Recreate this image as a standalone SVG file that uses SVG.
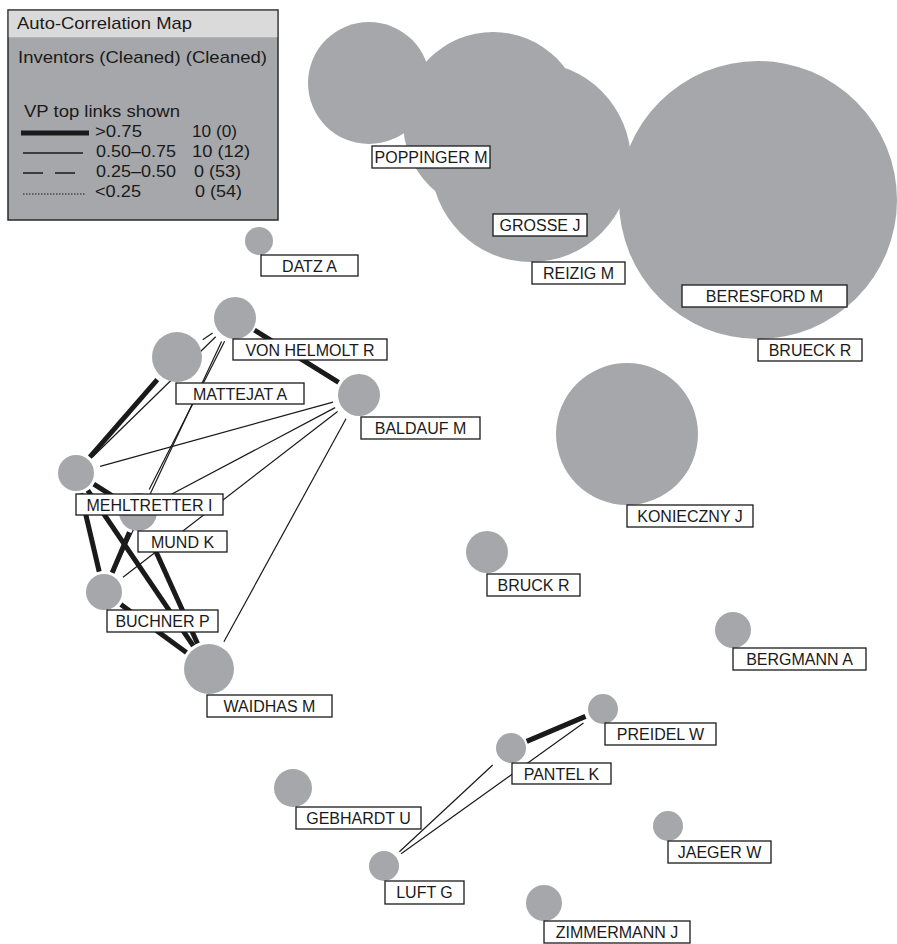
<svg xmlns="http://www.w3.org/2000/svg" width="897" height="944" viewBox="0 0 897 944">
  <style>
    .bg { fill: #ffffff; }
    .node circle { fill: #a6a7aa; }
    .node rect { fill: #ffffff; stroke: #1a1a1a; stroke-width: 1.3; }
    .node text { font-family: "Liberation Sans", Arial, sans-serif; font-size: 16px; fill: #1a1a1a; text-anchor: middle; }
    .edges line { stroke: #1a1a1a; stroke-linecap: butt; fill: none; }
    .edges .strong { stroke-width: 5; }
    .edges .medium { stroke-width: 1.2; }
    .legend text { font-family: "Liberation Sans", Arial, sans-serif; font-size: 17px; fill: #1a1a1a; }
    .legend line { stroke: #1a1a1a; }
  </style>

  <rect class="bg" x="0" y="0" width="897" height="944"/>

  <!-- links between inventors -->
  <g id="connectors" class="edges">
    <!-- >0.75 -->
    <line class="strong" x1="254.5" y1="330.1" x2="338.6" y2="382.3"/>
    <line class="strong" x1="157.3" y1="379.6" x2="89.8" y2="457.2"/>
    <line class="strong" x1="93.8" y1="484.2" x2="119.4" y2="500.3"/>
    <line class="strong" x1="80.8" y1="493.4" x2="99.2" y2="571.6"/>
    <line class="strong" x1="87.8" y1="490.4" x2="193.3" y2="645.8"/>
    <line class="strong" x1="129.4" y1="532.3" x2="112.2" y2="572.7"/>
    <line class="strong" x1="147.1" y1="532.0" x2="197.5" y2="643.5"/>
    <line class="strong" x1="120.9" y1="604.4" x2="186.4" y2="652.4"/>
    <line class="strong" x1="526.7" y1="741.4" x2="585.5" y2="716.4"/>
    <!-- 0.50-0.75 -->
    <line class="medium" x1="212.6" y1="333.1" x2="202.7" y2="339.7"/>
    <line class="medium" x1="215.7" y1="336.8" x2="92.5" y2="457.0"/>
    <line class="medium" x1="224.6" y1="341.3" x2="149.2" y2="489.6"/>
    <line class="medium" x1="221.6" y1="341.5" x2="114.4" y2="570.3"/>
    <line class="medium" x1="333.0" y1="402.2" x2="100.1" y2="466.4"/>
    <line class="medium" x1="335.1" y1="407.6" x2="160.1" y2="500.3"/>
    <line class="medium" x1="337.6" y1="411.5" x2="123.0" y2="577.3"/>
    <line class="medium" x1="346.0" y1="418.7" x2="223.9" y2="641.8"/>
    <line class="medium" x1="399.4" y1="851.7" x2="492.7" y2="765.0"/>
    <line class="medium" x1="401.1" y1="853.8" x2="583.5" y2="723.0"/>
  </g>

  <!-- inventor nodes: circle sized by weight, name box below-right of the centre -->
  <g id="brueck-r" class="node">
    <circle cx="758" cy="200" r="139"/>
    <rect x="758" y="339" width="104" height="22"/>
    <text x="810" y="356">BRUECK R</text>
  </g>
  <g id="beresford-m" class="node">
    <circle cx="682" cy="235" r="50"/>
    <rect x="682" y="285" width="165" height="22"/>
    <text x="764.5" y="302">BERESFORD M</text>
  </g>
  <g id="reizig-m" class="node">
    <circle cx="531" cy="162" r="100"/>
    <rect x="532" y="262" width="93" height="22"/>
    <text x="578.5" y="279">REIZIG M</text>
  </g>
  <g id="grosse-j" class="node">
    <circle cx="493" cy="122" r="90"/>
    <rect x="493" y="214" width="94" height="22"/>
    <text x="540" y="231">GROSSE J</text>
  </g>
  <g id="poppinger-m" class="node">
    <circle cx="369" cy="83" r="61"/>
    <rect x="372" y="146" width="118" height="22"/>
    <text x="431" y="163">POPPINGER M</text>
  </g>
  <g id="datz-a" class="node">
    <circle cx="259" cy="241" r="14"/>
    <rect x="261" y="255" width="97" height="21"/>
    <text x="309.5" y="271.5">DATZ A</text>
  </g>
  <g id="mund-k" class="node">
    <circle cx="138" cy="512" r="19"/>
    <rect x="138" y="531" width="89" height="21"/>
    <text x="182.5" y="547.5">MUND K</text>
  </g>
  <g id="von-helmolt-r" class="node">
    <circle cx="235" cy="318" r="21"/>
    <rect x="233" y="339" width="154" height="21"/>
    <text x="310" y="355.5">VON HELMOLT R</text>
  </g>
  <g id="baldauf-m" class="node">
    <circle cx="359" cy="395" r="21"/>
    <rect x="361" y="417" width="119" height="22"/>
    <text x="420.5" y="434">BALDAUF M</text>
  </g>
  <g id="mattejat-a" class="node">
    <circle cx="177" cy="357" r="25"/>
    <rect x="176" y="383" width="128" height="21"/>
    <text x="240" y="399.5">MATTEJAT A</text>
  </g>
  <g id="mehltretter-i" class="node">
    <circle cx="76" cy="473" r="18"/>
    <rect x="76" y="494" width="147" height="21"/>
    <text x="149.5" y="510.5">MEHLTRETTER I</text>
  </g>
  <g id="buchner-p" class="node">
    <circle cx="104" cy="592" r="18"/>
    <rect x="107" y="610" width="111" height="22"/>
    <text x="162.5" y="627">BUCHNER P</text>
  </g>
  <g id="waidhas-m" class="node">
    <circle cx="209" cy="669" r="25"/>
    <rect x="207" y="695" width="125" height="22"/>
    <text x="269.5" y="712">WAIDHAS M</text>
  </g>
  <g id="konieczny-j" class="node">
    <circle cx="627" cy="434" r="71"/>
    <rect x="627" y="505" width="126" height="22"/>
    <text x="690" y="522">KONIECZNY J</text>
  </g>
  <g id="bruck-r" class="node">
    <circle cx="487" cy="552" r="21"/>
    <rect x="487" y="574" width="93" height="22"/>
    <text x="533.5" y="591">BRUCK R</text>
  </g>
  <g id="bergmann-a" class="node">
    <circle cx="733" cy="630" r="18"/>
    <rect x="733" y="648" width="133" height="22"/>
    <text x="799.5" y="665">BERGMANN A</text>
  </g>
  <g id="preidel-w" class="node">
    <circle cx="603" cy="709" r="15"/>
    <rect x="605" y="723" width="111" height="22"/>
    <text x="660.5" y="740">PREIDEL W</text>
  </g>
  <g id="pantel-k" class="node">
    <circle cx="511" cy="748" r="15"/>
    <rect x="512" y="763" width="99" height="21"/>
    <text x="561.5" y="779.5">PANTEL K</text>
  </g>
  <g id="gebhardt-u" class="node">
    <circle cx="293" cy="788" r="19"/>
    <rect x="296" y="807" width="125" height="22"/>
    <text x="358.5" y="824">GEBHARDT U</text>
  </g>
  <g id="luft-g" class="node">
    <circle cx="384" cy="866" r="15"/>
    <rect x="385" y="881" width="79" height="23"/>
    <text x="424.5" y="898">LUFT G</text>
  </g>
  <g id="jaeger-w" class="node">
    <circle cx="668" cy="826" r="15"/>
    <rect x="668" y="841" width="103" height="22"/>
    <text x="719.5" y="858">JAEGER W</text>
  </g>
  <g id="zimmermann-j" class="node">
    <circle cx="544" cy="903" r="18"/>
    <rect x="544" y="921" width="146" height="22"/>
    <text x="617" y="938">ZIMMERMANN J</text>
  </g>

  <!-- legend panel -->
  <g id="legend" class="legend">
    <rect x="8" y="10" width="270" height="210" fill="#a6a7aa" stroke="#2a2a2a" stroke-width="1.5"/>
    <rect x="8.75" y="10.75" width="268.5" height="26.5" fill="#dadada"/>
    <text x="17" y="29" textLength="175" lengthAdjust="spacingAndGlyphs">Auto-Correlation Map</text>
    <text x="18" y="63" textLength="249" lengthAdjust="spacingAndGlyphs">Inventors (Cleaned) (Cleaned)</text>
    <text x="24" y="117" textLength="156" lengthAdjust="spacingAndGlyphs">VP top links shown</text>
    <line x1="21" y1="133" x2="89" y2="133" stroke-width="5"/>
    <line x1="23" y1="153" x2="83" y2="153" stroke-width="1.3"/>
    <line x1="23" y1="173" x2="78" y2="173" stroke-width="1.3" stroke-dasharray="20 12"/>
    <line x1="23" y1="194" x2="85" y2="194" stroke-width="1" stroke-dasharray="1.5 1.5"/>
    <text x="95" y="137" textLength="47" lengthAdjust="spacingAndGlyphs">&gt;0.75</text>
    <text x="96" y="157" textLength="80" lengthAdjust="spacingAndGlyphs">0.50–0.75</text>
    <text x="96" y="177" textLength="80" lengthAdjust="spacingAndGlyphs">0.25–0.50</text>
    <text x="95" y="197" textLength="46" lengthAdjust="spacingAndGlyphs">&lt;0.25</text>
    <text x="192" y="137" textLength="45" lengthAdjust="spacingAndGlyphs">10 (0)</text>
    <text x="192" y="157" textLength="58" lengthAdjust="spacingAndGlyphs">10 (12)</text>
    <text x="194" y="177" textLength="47" lengthAdjust="spacingAndGlyphs">0 (53)</text>
    <text x="195" y="197" textLength="47" lengthAdjust="spacingAndGlyphs">0 (54)</text>
  </g>
</svg>
